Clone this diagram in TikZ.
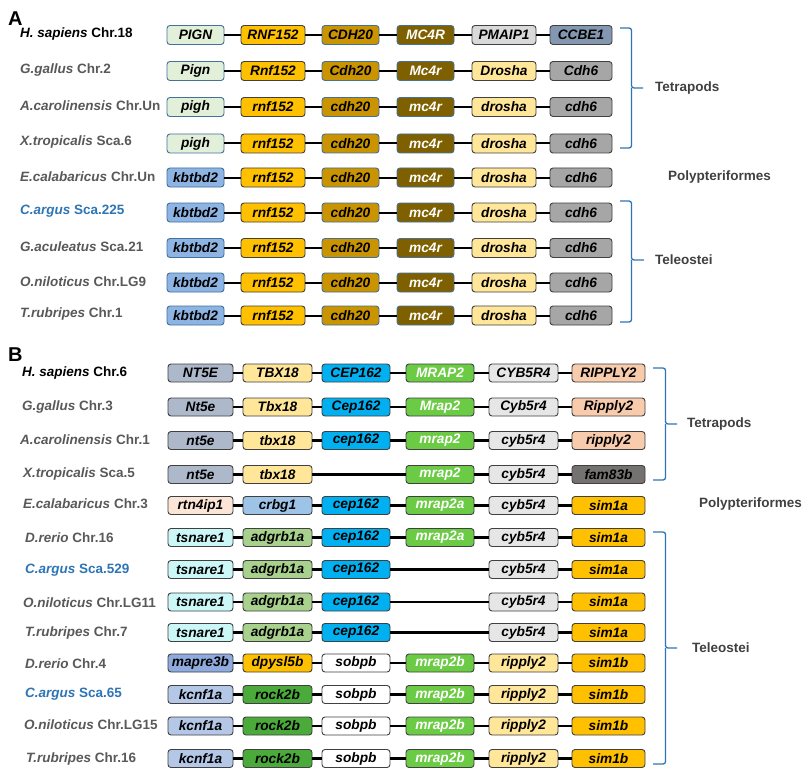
\documentclass[tikz,border=0pt]{standalone}
\usepackage{fontspec}
\setmainfont{Liberation Sans}
\definecolor{bdC}{HTML}{404040}
\definecolor{blC}{HTML}{41719C}
\definecolor{labC}{HTML}{595959}
\definecolor{grpC}{HTML}{404040}
\definecolor{braceC}{HTML}{2E75B6}
\definecolor{argC}{HTML}{2E75B6}
\definecolor{pignC}{HTML}{E2F0D9}
\definecolor{rnfC}{HTML}{FFC000}
\definecolor{cdhC}{HTML}{C99400}
\definecolor{mcC}{HTML}{7F6000}
\definecolor{pmaC}{HTML}{D9D9D9}
\definecolor{ccbC}{HTML}{8497B0}
\definecolor{droC}{HTML}{FFE699}
\definecolor{cdsC}{HTML}{A6A6A6}
\definecolor{kbtC}{HTML}{8EB4E3}
\definecolor{ntC}{HTML}{ADB9CA}
\definecolor{tbxC}{HTML}{FFE699}
\definecolor{cepC}{HTML}{00B0F0}
\definecolor{mrapC}{HTML}{6CCB45}
\definecolor{cybC}{HTML}{E7E6E6}
\definecolor{ripC}{HTML}{F8CBAD}
\definecolor{famC}{HTML}{767171}
\definecolor{rtnC}{HTML}{FBE5D6}
\definecolor{crbC}{HTML}{9DC3E6}
\definecolor{simC}{HTML}{FFC000}
\definecolor{tsnC}{HTML}{CCF7F7}
\definecolor{adgC}{HTML}{A9D18E}
\definecolor{mapC}{HTML}{8FAADC}
\definecolor{dpyC}{HTML}{FFC000}
\definecolor{kcnC}{HTML}{B4C7E7}
\definecolor{rockC}{HTML}{4AAA3A}
\definecolor{riptC}{HTML}{FFE699}
\newcommand\gfont{\bfseries\itshape\fontsize{13.7}{15}\selectfont}
\newcommand\sfont{\bfseries\fontsize{13.5}{15}\selectfont}
\newcommand\G[5]{\node[#4] (#1) at (#2,#3) {#5};}
\newcommand\linksA[1]{\draw[conn] (#1g1.east)--(#1g2.west) (#1g2.east)--(#1g3.west) (#1g3.east)--(#1g4.west) (#1g4.east)--(#1g5.west) (#1g5.east)--(#1g6.west);}
\newcommand\rowA[9]{%
\G{#1g1}{195.5}{#2}{gene,wA1,#3}{#4}
\G{#1g2}{273}{#2}{gene,wA2,rnf}{#5}
\G{#1g3}{350.5}{#2}{gene,wA3,cdhA,bl}{#6}
\G{#1g4}{425.5}{#2}{gene,wA4,mcr,bl,wt}{#7}
\G{#1g5}{504}{#2}{gene,wA5,dro}{#8}
\G{#1g6}{581}{#2}{gene,wA6,cds}{#9}
\linksA{#1}}
\begin{document}
\begin{tikzpicture}[x=1pt,y=-1pt,
 gene/.style={draw=bdC, line width=0.9pt, rounded corners=3pt, inner sep=0pt, minimum height=19pt, font=\gfont, text=black},
 geneB/.style={gene, minimum height=18pt},
 bl/.style={draw=blC},
 wt/.style={text=white},
 conn/.style={line width=2pt, black},
 connB/.style={line width=2.6pt, black},
 sp/.style={anchor=west, font=\sfont, text=labC, inner sep=0pt},
 grp/.style={anchor=west, font=\sfont, text=grpC, inner sep=0pt},
 brace/.style={draw=braceC, line width=1.3pt, rounded corners=2.5pt},
 wA1/.style={minimum width=57pt}, wA2/.style={minimum width=64pt},
 wA3/.style={minimum width=57pt}, wA4/.style={minimum width=57pt},
 wA5/.style={minimum width=64pt}, wA6/.style={minimum width=62pt},
 wB1/.style={minimum width=65pt}, wB2/.style={minimum width=69pt},
 wB3/.style={minimum width=68pt}, wB4/.style={minimum width=68pt},
 wB5/.style={minimum width=69pt}, wB6/.style={minimum width=73pt},
 pign/.style={fill=pignC,draw=blC}, rnf/.style={fill=rnfC}, cdhA/.style={fill=cdhC},
 mcr/.style={fill=mcC}, pma/.style={fill=pmaC}, ccb/.style={fill=ccbC},
 dro/.style={fill=droC}, cds/.style={fill=cdsC}, kbt/.style={fill=kbtC,draw=blC},
 nt/.style={fill=ntC}, tbx/.style={fill=tbxC}, cep/.style={fill=cepC},
 mrap/.style={fill=mrapC,text=white}, cyb/.style={fill=cybC}, rip/.style={fill=ripC},
 fam/.style={fill=famC}, rtn/.style={fill=rtnC}, crb/.style={fill=crbC},
 sim/.style={fill=simC}, tsn/.style={fill=tsnC}, adg/.style={fill=adgC},
 map/.style={fill=mapC}, dpy/.style={fill=dpyC}, sob/.style={fill=white},
 kcn/.style={fill=kcnC}, rock/.style={fill=rockC}, ript/.style={fill=riptC},
]
\useasboundingbox[fill=white] (0,0) rectangle (810,778);
% ---------------- Panel A ----------------
\node[anchor=west, font=\bfseries\fontsize{20}{21}\selectfont, inner sep=0pt] (lblA) at (8,18.5) {A};
\G{a1g1}{195.5}{35}{gene,wA1,pign}{PIGN}
\G{a1g2}{273}{35}{gene,wA2,rnf}{RNF152}
\G{a1g3}{350.5}{35}{gene,wA3,cdhA,bl}{CDH20}
\G{a1g4}{425.5}{35}{gene,wA4,mcr,bl,wt}{MC4R}
\G{a1g5}{504}{35}{gene,wA5,pma}{PMAIP1}
\G{a1g6}{581}{35}{gene,wA6,ccb}{CCBE1}
\linksA{a1}
\rowA{a2}{71}{pign}{Pign}{Rnf152}{Cdh20}{Mc4r}{Drosha}{Cdh6}
\rowA{a3}{107}{pign}{pigh}{rnf152}{cdh20}{mc4r}{drosha}{cdh6}
\rowA{a4}{143.5}{pign}{pigh}{rnf152}{cdh20}{mc4r}{drosha}{cdh6}
\rowA{a5}{177.5}{kbt}{kbtbd2}{rnf152}{cdh20}{mc4r}{drosha}{cdh6}
\rowA{a6}{212.5}{kbt}{kbtbd2}{rnf152}{cdh20}{mc4r}{drosha}{cdh6}
\rowA{a7}{248}{kbt}{kbtbd2}{rnf152}{cdh20}{mc4r}{drosha}{cdh6}
\rowA{a8}{282.5}{kbt}{kbtbd2}{rnf152}{cdh20}{mc4r}{drosha}{cdh6}
\rowA{a9}{315.5}{kbt}{kbtbd2}{rnf152}{cdh20}{mc4r}{drosha}{cdh6}
\node[sp, text=black] (sa1) at (20,34) {\textit{H. sapiens} Chr.18};
\node[sp] (sa2) at (20,70) {\textit{G.gallus} Chr.2};
\node[sp] (sa3) at (20,106) {\textit{A.carolinensis} Chr.Un};
\node[sp] (sa4) at (20,142.5) {\textit{X.tropicalis} Sca.6};
\node[sp] (sa5) at (20,176.5) {\textit{E.calabaricus} Chr.Un};
\node[sp, text=argC] (sa6) at (20,211.5) {\textit{C.argus} Sca.225};
\node[sp] (sa7) at (20,247) {\textit{G.aculeatus} Sca.21};
\node[sp] (sa8) at (20,281.5) {\textit{O.niloticus} Chr.LG9};
\node[sp] (sa9) at (20,314.5) {\textit{T.rubripes} Chr.1};
% brackets A
\coordinate (bAt1) at (620,28); \coordinate (bAt2) at (631.5,28);
\coordinate (bAm) at (631.5,88); \coordinate (bAtip) at (643,88);
\coordinate (bAb2) at (631.5,148); \coordinate (bAb1) at (620,148);
\draw[brace] (bAt1) -- (bAt2) -- (bAm) -- (bAtip);
\draw[brace] (bAm) -- (bAb2) -- (bAb1);
\node[grp] (gA1) at (655,88) {Tetrapods};
\node[grp] (gA2) at (668,177) {Polypteriformes};
\coordinate (cAt1) at (620,201); \coordinate (cAt2) at (631.5,201);
\coordinate (cAm) at (631.5,260); \coordinate (cAtip) at (644,260);
\coordinate (cAb2) at (631.5,322); \coordinate (cAb1) at (620,322);
\draw[brace] (cAt1) -- (cAt2) -- (cAm) -- (cAtip);
\draw[brace] (cAm) -- (cAb2) -- (cAb1);
\node[grp] (gA3) at (655,260) {Teleostei};
% ---------------- Panel B ----------------
\node[anchor=west, font=\bfseries\fontsize{20}{21}\selectfont, inner sep=0pt] (lblB) at (8,355) {B};
% row 1
\G{b1g1}{200.5}{373}{geneB,wB1,nt}{NT5E}
\G{b1g2}{277.5}{373}{geneB,wB2,tbx}{TBX18}
\G{b1g3}{356}{373}{geneB,wB3,cep}{CEP162}
\G{b1g4}{440}{373}{geneB,wB4,mrap}{MRAP2}
\G{b1g5}{523.5}{373}{geneB,wB5,cyb}{CYB5R4}
\G{b1g6}{608.5}{373}{geneB,wB6,rip}{RIPPLY2}
% row 2
\G{b2g1}{200.5}{407}{geneB,wB1,nt}{Nt5e}
\G{b2g2}{277.5}{407}{geneB,wB2,tbx}{Tbx18}
\G{b2g3}{356}{407}{geneB,wB3,cep}{Cep162}
\G{b2g4}{440}{407}{geneB,wB4,mrap}{Mrap2}
\G{b2g5}{523.5}{407}{geneB,wB5,cyb}{Cyb5r4}
\G{b2g6}{608.5}{407}{geneB,wB6,rip}{Ripply2}
% row 3
\G{b3g1}{200.5}{440.5}{geneB,wB1,nt}{nt5e}
\G{b3g2}{277.5}{440.5}{geneB,wB2,tbx}{tbx18}
\G{b3g3}{356}{440.5}{geneB,wB3,cep}{cep162}
\G{b3g4}{440}{440.5}{geneB,wB4,mrap}{mrap2}
\G{b3g5}{523.5}{440.5}{geneB,wB5,cyb}{cyb5r4}
\G{b3g6}{608.5}{440.5}{geneB,wB6,rip}{ripply2}
% row 4
\G{b4g1}{200.5}{474.5}{geneB,wB1,nt}{nt5e}
\G{b4g2}{277.5}{474.5}{geneB,wB2,tbx}{tbx18}
\G{b4g4}{440}{474.5}{geneB,wB4,mrap}{mrap2}
\G{b4g5}{523.5}{474.5}{geneB,wB5,cyb}{cyb5r4}
\G{b4g6}{608.5}{474.5}{geneB,wB6,fam}{fam83b}
% row 5
\G{b5g1}{200.5}{505.5}{geneB,wB1,rtn}{rtn4ip1}
\G{b5g2}{277.5}{505.5}{geneB,wB2,crb}{crbg1}
\G{b5g3}{356}{505.5}{geneB,wB3,cep}{cep162}
\G{b5g4}{440}{505.5}{geneB,wB4,mrap}{mrap2a}
\G{b5g5}{523.5}{505.5}{geneB,wB5,cyb}{cyb5r4}
\G{b5g6}{608.5}{505.5}{geneB,wB6,sim}{sim1a}
% row 6
\G{b6g1}{200.5}{537.5}{geneB,wB1,tsn}{tsnare1}
\G{b6g2}{277.5}{537.5}{geneB,wB2,adg}{adgrb1a}
\G{b6g3}{356}{537.5}{geneB,wB3,cep}{cep162}
\G{b6g4}{440}{537.5}{geneB,wB4,mrap}{mrap2a}
\G{b6g5}{523.5}{537.5}{geneB,wB5,cyb}{cyb5r4}
\G{b6g6}{608.5}{537.5}{geneB,wB6,sim}{sim1a}
% row 7
\G{b7g1}{200.5}{569.5}{geneB,wB1,tsn}{tsnare1}
\G{b7g2}{277.5}{569.5}{geneB,wB2,adg}{adgrb1a}
\G{b7g3}{356}{569.5}{geneB,wB3,cep}{cep162}
\G{b7g5}{523.5}{569.5}{geneB,wB5,cyb}{cyb5r4}
\G{b7g6}{608.5}{569.5}{geneB,wB6,sim}{sim1a}
% row 8
\G{b8g1}{200.5}{602}{geneB,wB1,tsn}{tsnare1}
\G{b8g2}{277.5}{602}{geneB,wB2,adg}{adgrb1a}
\G{b8g3}{356}{602}{geneB,wB3,cep}{cep162}
\G{b8g5}{523.5}{602}{geneB,wB5,cyb}{cyb5r4}
\G{b8g6}{608.5}{602}{geneB,wB6,sim}{sim1a}
% row 9
\G{b9g1}{200.5}{632.5}{geneB,wB1,tsn}{tsnare1}
\G{b9g2}{277.5}{632.5}{geneB,wB2,adg}{adgrb1a}
\G{b9g3}{356}{632.5}{geneB,wB3,cep}{cep162}
\G{b9g5}{523.5}{632.5}{geneB,wB5,cyb}{cyb5r4}
\G{b9g6}{608.5}{632.5}{geneB,wB6,sim}{sim1a}
% row 10
\G{b10g1}{200.5}{663}{geneB,wB1,map}{mapre3b}
\G{b10g2}{277.5}{663}{geneB,wB2,dpy}{dpysl5b}
\G{b10g3}{356}{663}{geneB,wB3,sob}{sobpb}
\G{b10g4}{440}{663}{geneB,wB4,mrap}{mrap2b}
\G{b10g5}{523.5}{663}{geneB,wB5,ript}{ripply2}
\G{b10g6}{608.5}{663}{geneB,wB6,sim}{sim1b}
% row 11
\G{b11g1}{200.5}{694.5}{geneB,wB1,kcn}{kcnf1a}
\G{b11g2}{277.5}{694.5}{geneB,wB2,rock}{rock2b}
\G{b11g3}{356}{694.5}{geneB,wB3,sob}{sobpb}
\G{b11g4}{440}{694.5}{geneB,wB4,mrap}{mrap2b}
\G{b11g5}{523.5}{694.5}{geneB,wB5,ript}{ripply2}
\G{b11g6}{608.5}{694.5}{geneB,wB6,sim}{sim1b}
% row 12
\G{b12g1}{200.5}{726}{geneB,wB1,kcn}{kcnf1a}
\G{b12g2}{277.5}{726}{geneB,wB2,rock}{rock2b}
\G{b12g3}{356}{726}{geneB,wB3,sob}{sobpb}
\G{b12g4}{440}{726}{geneB,wB4,mrap}{mrap2b}
\G{b12g5}{523.5}{726}{geneB,wB5,ript}{ripply2}
\G{b12g6}{608.5}{726}{geneB,wB6,sim}{sim1b}
% row 13
\G{b13g1}{200.5}{758.5}{geneB,wB1,kcn}{kcnf1a}
\G{b13g2}{277.5}{758.5}{geneB,wB2,rock}{rock2b}
\G{b13g3}{356}{758.5}{geneB,wB3,sob}{sobpb}
\G{b13g4}{440}{758.5}{geneB,wB4,mrap}{mrap2b}
\G{b13g5}{523.5}{758.5}{geneB,wB5,ript}{ripply2}
\G{b13g6}{608.5}{758.5}{geneB,wB6,sim}{sim1b}
% connectors B
\foreach \r in {1,2,3,5,6,10,11,12,13}{
  \draw[connB] (b\r g1.east)--(b\r g2.west) (b\r g2.east)--(b\r g3.west) (b\r g3.east)--(b\r g4.west) (b\r g4.east)--(b\r g5.west) (b\r g5.east)--(b\r g6.west);
}
\draw[connB] (b4g1.east)--(b4g2.west) (b4g2.east)--(b4g4.west) (b4g4.east)--(b4g5.west) (b4g5.east)--(b4g6.west);
\foreach \r in {7,8,9}{
  \draw[connB] (b\r g1.east)--(b\r g2.west) (b\r g2.east)--(b\r g3.west) (b\r g3.east)--(b\r g5.west) (b\r g5.east)--(b\r g6.west);
}
% species labels B
\node[sp, text=black] (sb1) at (22,373) {\textit{H. sapiens} Chr.6};
\node[sp] (sb2) at (22,407) {\textit{G.gallus} Chr.3};
\node[sp] (sb3) at (20,440) {\textit{A.carolinensis} Chr.1};
\node[sp] (sb4) at (23,474) {\textit{X.tropicalis} Sca.5};
\node[sp] (sb5) at (23,503.5) {\textit{E.calabaricus} Chr.3};
\node[sp] (sb6) at (25,538) {\textit{D.rerio} Chr.16};
\node[sp, text=argC] (sb7) at (25,570.5) {\textit{C.argus} Sca.529};
\node[sp] (sb8) at (23,602.5) {\textit{O.niloticus} Chr.LG11};
\node[sp] (sb9) at (25,633) {\textit{T.rubripes} Chr.7};
\node[sp] (sb10) at (25,664) {\textit{D.rerio} Chr.4};
\node[sp, text=argC] (sb11) at (25,694) {\textit{C.argus} Sca.65};
\node[sp] (sb12) at (24,725) {\textit{O.niloticus} Chr.LG15};
\node[sp] (sb13) at (26,758.5) {\textit{T.rubripes} Chr.16};
% brackets B
\coordinate (bBt1) at (653,368); \coordinate (bBt2) at (665.5,368);
\coordinate (bBm) at (665.5,424); \coordinate (bBtip) at (677,424);
\coordinate (bBb2) at (665.5,480); \coordinate (bBb1) at (653,480);
\draw[brace] (bBt1) -- (bBt2) -- (bBm) -- (bBtip);
\draw[brace] (bBm) -- (bBb2) -- (bBb1);
\node[grp] (gB1) at (687,424) {Tetrapods};
\node[grp] (gB2) at (699,504) {Polypteriformes};
\coordinate (cBt1) at (653,532); \coordinate (cBt2) at (665.5,532);
\coordinate (cBm) at (665.5,648); \coordinate (cBtip) at (677,648);
\coordinate (cBb2) at (665.5,764); \coordinate (cBb1) at (653,764);
\draw[brace] (cBt1) -- (cBt2) -- (cBm) -- (cBtip);
\draw[brace] (cBm) -- (cBb2) -- (cBb1);
\node[grp] (gB3) at (692,648) {Teleostei};
\end{tikzpicture}
\end{document}
